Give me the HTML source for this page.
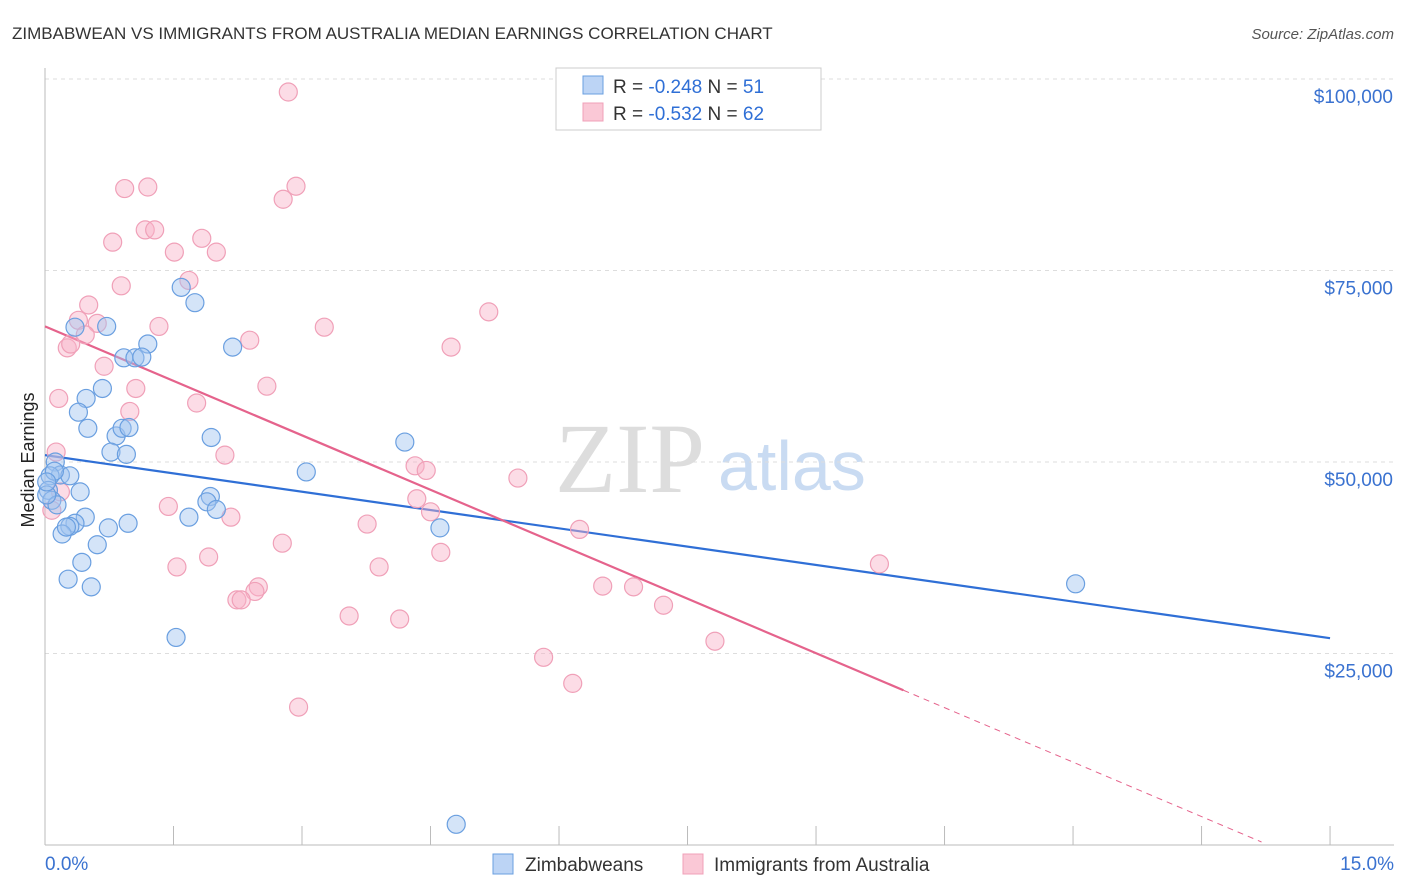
<!DOCTYPE html>
<html><head><meta charset="utf-8"><style>
body{margin:0;background:#fff;font-family:"Liberation Sans",sans-serif}
svg{display:block}
</style></head><body>
<svg id="chart" width="1406" height="892">
<text x="12" y="39" font-size="17" fill="#333">ZIMBABWEAN VS IMMIGRANTS FROM AUSTRALIA MEDIAN EARNINGS CORRELATION CHART</text>
<text x="1394" y="39" font-size="15" fill="#555" font-style="italic" text-anchor="end">Source: ZipAtlas.com</text>
<text x="34" y="460" font-size="18" fill="#222" text-anchor="middle" transform="rotate(-90 34 460)">Median Earnings</text>
<text x="555" y="492" font-size="100" fill="#ddd" font-family="Liberation Serif">ZIP</text>
<text x="718" y="490" font-size="70" fill="#c9dbf2">atlas</text>
<g id="grid"></g><g id="axes"></g><g id="lines"></g><g id="pts"></g>
<g>
<rect x="556" y="68" width="265" height="62" fill="#fff" stroke="#ccc"/>
<rect x="583" y="76" width="20" height="18" fill="#bcd4f5" stroke="#6a9fe0"/>
<rect x="583" y="103" width="20" height="18" fill="#fac8d6" stroke="#f0a0b8"/>
<text x="613" y="93" font-size="19" fill="#333">R = <tspan fill="#2f6fd6">-0.248</tspan>   N = <tspan fill="#2f6fd6">51</tspan></text>
<text x="613" y="120" font-size="19" fill="#333">R = <tspan fill="#2f6fd6">-0.532</tspan>   N = <tspan fill="#2f6fd6">62</tspan></text>
</g>
<g>
<rect x="493" y="854" width="20" height="20" fill="#bcd4f5" stroke="#6a9fe0"/>
<text x="525" y="871" font-size="19" fill="#333">Zimbabweans</text>
<rect x="683" y="854" width="20" height="20" fill="#fac8d6" stroke="#f0a0b8"/>
<text x="714" y="871" font-size="19" fill="#333">Immigrants from Australia</text>
</g>
</svg>
<script>
const blueX=[0.35,0.72,1.59,1.75,1.20,0.92,1.05,1.13,2.19,0.67,0.48,0.39,0.50,0.83,0.90,0.98,0.77,0.95,1.94,4.20,0.12,0.18,0.29,0.06,0.04,0.41,0.08,1.93,1.89,2.00,3.05,0.47,0.35,0.29,0.20,0.74,0.97,1.68,0.61,0.43,0.27,0.54,1.53,4.61,12.03,4.80,0.14,0.02,0.11,0.02,0.25];
const blueY=[67600,67700,72800,70800,65400,63600,63600,63700,65000,59600,58300,56500,54400,53400,54400,54500,51300,51000,53200,52600,50000,48300,48200,48200,46300,46100,45000,45500,44800,43800,48700,42800,42000,41600,40600,41400,42000,42800,39200,36900,34700,33700,27100,41400,34100,2700,44400,45700,48800,47400,41500];
const pinkX=[2.84,0.93,1.20,2.93,2.78,0.79,1.17,1.28,1.83,1.51,2.00,1.68,0.89,0.51,0.39,0.61,0.47,0.26,0.30,1.33,3.26,5.18,2.39,4.74,0.69,1.06,0.16,2.59,1.77,0.99,0.13,2.10,4.32,4.45,5.52,0.18,0.08,1.44,2.17,4.34,4.50,6.24,3.76,2.77,4.62,1.91,1.54,3.90,9.74,2.49,6.51,6.87,2.45,2.24,2.29,7.22,3.55,4.14,7.82,5.82,6.16,2.96];
const pinkY=[98300,85700,85900,86000,84300,78700,80300,80300,79200,77400,77400,73700,73000,70500,68500,68100,66600,64900,65400,67700,67600,69600,65900,65000,62500,59600,58300,59900,57700,56600,51300,50900,49500,48900,47900,46100,43700,44200,42800,45200,43500,41200,41900,39400,38200,37600,36300,36300,36700,33700,33800,33700,33100,32000,32000,31300,29900,29500,26600,24500,21100,18000];
const yTicks=[25000,50000,75000,100000];
const yTickLabels=["$25,000","$50,000","$75,000","$100,000"];
const blueTrend=[50900,27000];
const pinkTrend=[67700,-4740];
const pinkSolidEnd=10.02, pinkDashEnd=14.2;
const NS="http://www.w3.org/2000/svg";
const X=v=>45+v*85.67, Y=v=>845-v*0.00766;
function mk(t,a,p){const e=document.createElementNS(NS,t);for(const k in a)e.setAttribute(k,a[k]);p.appendChild(e);return e;}
const grid=document.getElementById('grid'),axes=document.getElementById('axes'),lines=document.getElementById('lines'),pts=document.getElementById('pts');
yTicks.forEach((t,i)=>{
 const l=mk('line',{x1:45,x2:1394,y1:Y(t),y2:Y(t),stroke:'#ddd','stroke-dasharray':'4,4'},grid);
 
 
 const tx=mk('text',{x:1393,y:Y(t)+24,'font-size':19,fill:'#3a72d0','text-anchor':'end'},grid);
 tx.textContent=yTickLabels[i];
 
 
});
mk('line',{x1:45,x2:45,y1:68,y2:845,stroke:'#bbb'},axes);
mk('line',{x1:45,x2:1394,y1:845,y2:845,stroke:'#bbb'},axes);
for(let i=0;i<=10;i++){const t=mk('line',{x1:X(i*1.5),x2:X(i*1.5),y1:826,y2:845,stroke:'#bbb'},axes);}
const xl0=mk('text',{x:45,y:870,'font-size':19,fill:'#3a72d0'},axes);xl0.textContent='0.0%';


const xl1=mk('text',{x:1394,y:870,'font-size':19,fill:'#3a72d0','text-anchor':'end'},axes);xl1.textContent='15.0%';


const bl=mk('line',{x1:X(0),y1:Y(blueTrend[0]),x2:X(15),y2:Y(blueTrend[1]),stroke:'#2f6fd6','stroke-width':2.2},lines);


const pf=x=>pinkTrend[0]+pinkTrend[1]*x;
const pl=mk('line',{x1:X(0),y1:Y(pf(0)),x2:X(pinkSolidEnd),y2:Y(pf(pinkSolidEnd)),stroke:'#e5638c','stroke-width':2.2},lines);


const pd=mk('line',{x1:X(pinkSolidEnd),y1:Y(pf(pinkSolidEnd)),x2:X(pinkDashEnd),y2:Y(pf(pinkDashEnd)),stroke:'#e5638c','stroke-width':1,'stroke-dasharray':'6,5'},lines);


pinkX.forEach((x,i)=>{const c=mk('circle',{cx:X(x),cy:Y(pinkY[i]),r:9,fill:'rgba(248,178,200,0.45)',stroke:'#f0a0b8','stroke-width':1.2},pts);

});
blueX.forEach((x,i)=>{const c=mk('circle',{cx:X(x),cy:Y(blueY[i]),r:9,fill:'rgba(160,196,240,0.45)',stroke:'#6a9fe0','stroke-width':1.2},pts);

});
</script>
</body></html>
